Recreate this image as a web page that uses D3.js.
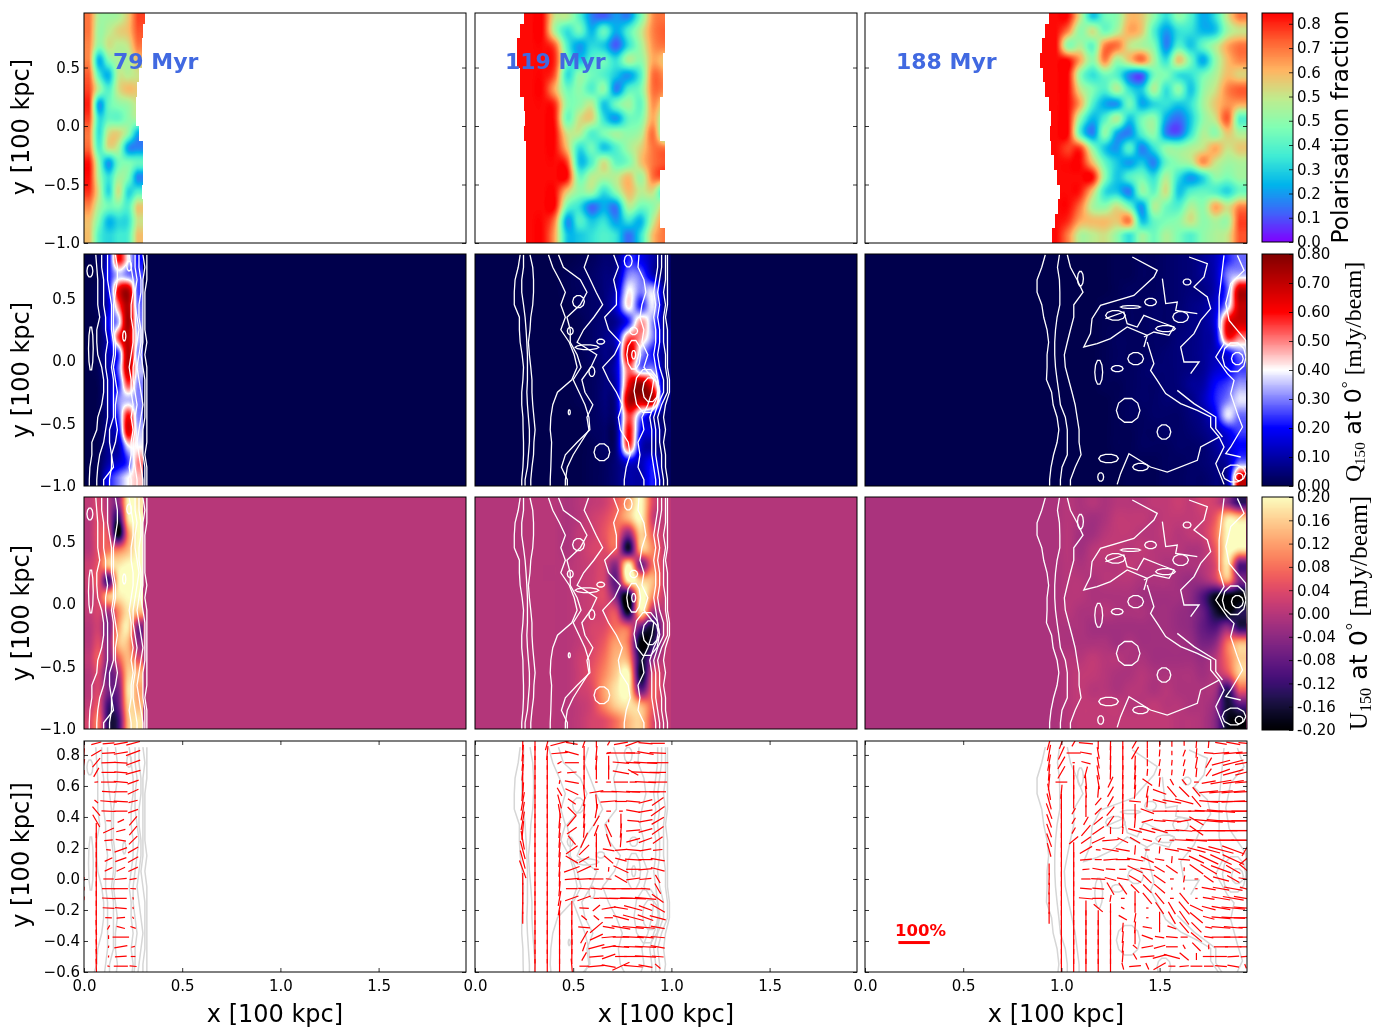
<!DOCTYPE html>
<html>
<head>
<meta charset="utf-8">
<script src="https://cdn.jsdelivr.net/npm/d3@7"></script>
<style>
  body { margin: 0; background: #fff; }
  #wrap { position: relative; width: 1383px; height: 1036px; }
  canvas, svg { position: absolute; left: 0; top: 0; }
  text { font-family: "DejaVu Sans", sans-serif; fill: #000; }
</style>
</head>
<body>
<div id="wrap"><canvas id="maps" width="1383" height="1036"></canvas><svg id="axes" width="1383" height="1036"></svg></div>
<script>
const ages = ['79 Myr', '119 Myr', '188 Myr'];

// grid origin and spacing of the maps, per column (x in 100 kpc)
const mapX0 = [0, 0.25, 0.94];
const mapDx = [0.05, 0.0625, 0.0625];
const polY = d3.range(16).map(i => 0.9375 - i * 0.125);
const stokesY = polY.slice(1);

// polarisation fraction, percent
const pol79 = [
  [72,50,48,50,60,78],[72,48,52,58,62,76],[70,45,55,52,55,72],[70,22,42,50,50,62],
  [75,35,22,52,52,55],[78,50,35,55,62,60],[82,20,38,45,48,55],[78,30,38,38,45,50],
  [72,30,55,58,45,20],[74,35,55,50,18,15],[84,45,18,40,42,38],[84,50,30,48,42,15],
  [80,55,28,55,28,35],[70,50,40,42,35,60],[62,42,22,28,30,55],[62,35,28,32,35,62]];
const pol119 = [
  [84,84,55,52,35,15,10,18,15,40,68,72],[84,84,50,30,40,22,38,20,35,52,70,75],
  [84,84,75,35,18,28,25,10,30,48,68,72],[84,84,80,40,25,35,40,30,50,45,65,60],
  [84,84,75,30,45,40,35,25,18,35,72,68],[84,84,65,40,45,35,45,15,35,42,72,70],
  [84,84,80,45,45,52,25,40,48,38,68,55],[84,84,82,40,55,58,30,18,38,42,65,40],
  [84,84,84,55,52,35,42,48,45,50,72,35],[84,84,84,62,30,40,25,35,48,58,72,72],
  [84,84,84,78,25,35,55,38,42,60,72,76],[84,84,84,84,40,52,50,52,62,48,72,76],
  [84,84,84,60,45,48,30,45,62,52,55,25],[84,84,84,40,30,12,20,15,50,40,45,60],
  [84,84,70,18,35,25,30,18,30,22,52,72],[84,84,65,25,25,30,35,30,12,30,62,72]];
const pol188 = [
  [84,84,55,25,40,45,62,60,45,30,45,35,20,30,55,72],[84,70,45,55,40,50,65,60,35,18,30,30,22,25,48,55],
  [84,45,50,38,70,72,55,50,42,15,35,25,38,50,65,72],[84,84,65,45,70,48,60,72,50,30,60,40,20,45,62,70],
  [84,84,45,30,40,35,15,10,40,42,30,30,40,50,62,58],[84,84,55,42,35,50,30,25,50,30,45,25,45,55,70,75],
  [84,84,65,35,20,18,40,20,28,30,25,30,48,60,68,65],[84,84,45,22,35,50,25,40,45,20,12,25,45,55,75,35],
  [84,84,35,15,45,20,15,35,45,15,10,30,50,45,60,50],[84,78,78,45,25,18,35,15,30,45,45,50,55,65,55,60],
  [84,84,84,62,38,25,18,25,15,38,45,50,68,55,48,50],[84,84,84,84,45,25,35,40,30,50,30,18,28,45,42,48],
  [84,84,82,60,30,25,15,45,38,55,25,35,38,35,28,40],[84,84,72,50,45,55,40,18,50,40,35,50,45,65,55,70],
  [84,80,65,62,62,60,70,25,38,42,45,55,45,50,48,78],[84,70,50,52,55,45,30,48,40,50,42,35,45,50,55,76]];

// where the polarisation map stops being defined, per grid row
const polLeft = [
  new Array(16).fill(0),
  [.247,.23,.216,.216,.23,.23,.247,.255,.247,.26,.26,.26,.26,.26,.26,.26],
  [.935,.918,.901,.893,.906,.918,.935,.947,.943,.947,.961,.978,.991,.985,.968,.952]];
const polRight = [
  [.31,.30,.295,.295,.28,.27,.265,.265,.28,.30,.30,.30,.295,.30,.30,.30],
  [.969,.969,.969,.955,.955,.955,.94,.94,.94,.969,.969,.94,.94,.94,.94,.969],
  [1.95,1.95,1.95,1.95,1.95,1.95,1.95,1.95,1.95,1.95,1.95,1.95,1.95,1.95,1.95,1.95]];

// Q at 150 MHz, hundredths of mJy/beam
const q79 = [
  [0,3,18,60,40,20],[0,2,20,35,30,25],[0,3,18,62,72,25],[0,3,15,50,72,28],[0,2,20,35,75,30],
  [0,2,15,55,70,35],[0,2,12,25,72,30],[0,2,10,28,70,35],[0,1,10,22,55,30],[0,1,10,30,35,30],
  [0,1,8,25,60,30],[0,1,8,18,65,35],[0,1,8,10,38,40],[0,2,10,15,25,50],[0,2,20,30,40,45]];
const q119 = [
  [0,0,0,0,1,2,4,6,22,18,10,3],[0,0,0,1,2,3,5,8,30,28,12,3],[0,0,0,1,2,3,5,12,40,30,36,5],
  [0,0,0,0,2,3,5,15,42,22,38,5],[0,0,0,0,1,3,5,8,22,48,30,5],[0,0,0,0,1,3,6,14,52,48,30,8],
  [0,0,0,0,1,3,6,12,68,35,20,6],[0,0,0,0,1,2,5,14,52,30,30,5],[0,0,0,0,1,2,5,12,60,78,55,5],
  [0,0,0,0,1,2,5,10,72,70,70,5],[0,0,0,0,0,2,4,8,55,30,12,3],[0,0,0,0,0,2,3,6,60,20,15,3],
  [0,0,0,0,0,1,3,6,55,14,8,2],[0,0,0,0,0,1,2,5,15,12,20,2],[0,0,0,0,0,1,2,5,10,10,22,2]];
const q188 = [
  [0,0,0,0,0,1,1,2,2,3,4,5,8,12,22,28],[0,0,0,0,0,1,1,2,2,3,4,5,8,12,30,35],
  [0,0,0,0,0,1,2,2,2,3,4,5,6,12,28,72],[0,0,0,0,1,1,2,2,3,3,4,6,8,15,35,70],
  [0,0,0,0,1,1,2,2,3,3,4,6,8,18,62,68],[0,0,0,0,1,2,2,2,3,3,5,6,8,15,58,50],
  [0,0,0,0,1,2,2,2,3,4,5,6,8,12,18,30],[0,0,0,0,1,2,2,3,4,4,5,6,8,14,18,25],
  [0,0,0,0,1,1,2,3,3,4,5,8,10,20,25,32],[0,0,0,0,0,1,2,3,3,4,4,6,12,22,30,38],
  [0,0,0,0,0,1,2,2,3,3,3,5,8,18,38,28],[0,0,0,0,0,1,1,2,2,3,3,4,6,10,18,25],
  [0,0,0,0,0,1,1,2,2,2,3,3,4,8,14,20],[0,0,0,0,0,0,1,1,1,2,2,3,4,6,10,30],
  [0,0,0,0,0,0,1,1,1,2,2,3,3,5,10,70]];

// U at 150 MHz, hundredths of mJy/beam
const u79 = [
  [1,3,-1,-4,20,18],[0,4,0,-14,18,20],[0,5,4,-20,10,20],[0,5,8,8,14,20],[2,6,15,18,20,20],
  [2,5,-12,18,20,20],[1,4,14,18,20,20],[1,3,-2,10,18,14],[0,2,-6,12,18,-6],[0,4,-4,14,14,-4],
  [1,6,-5,6,14,4],[0,3,-8,-2,16,14],[0,3,-6,-6,18,12],[1,5,-12,-8,16,14],[3,8,-14,-12,14,18]];
const u119 = [
  [0,0,0,-1,0,1,2,6,12,20,4,1],[0,0,0,-1,0,2,4,8,14,20,2,1],[0,0,0,-1,1,2,5,8,-4,16,6,1],
  [0,0,0,-1,1,3,4,6,-16,14,10,1],[0,0,0,0,1,2,3,-4,20,-6,8,1],[0,0,0,0,1,2,3,-8,20,16,14,1],
  [0,0,0,0,1,2,4,-6,-20,20,10,1],[0,0,0,0,1,2,3,4,-18,18,-2,1],[0,0,0,0,1,3,4,8,6,-8,-16,1],
  [0,0,0,0,1,3,6,12,8,-20,-14,1],[0,0,0,0,2,4,8,14,12,-16,-4,1],[0,0,0,0,2,5,10,16,20,-18,4,1],
  [0,0,0,0,2,4,12,18,20,-8,6,1],[0,0,0,0,1,3,10,16,18,14,6,1],[0,0,0,0,1,3,4,8,14,16,4,1]];
const u188 = [
  [-1,0,-1,0,-1,0,0,0,1,1,2,1,3,2,-4,-14],[-1,0,-1,-2,-1,1,1,1,0,1,1,1,2,6,18,16],
  [-1,0,-2,-2,0,1,1,0,0,1,0,1,2,8,20,20],[-1,0,-2,0,1,1,0,1,0,0,0,-1,0,6,20,18],
  [-1,0,-1,0,0,0,1,0,0,-1,-1,-1,0,4,18,-10],[-1,0,0,-1,0,0,0,-1,-1,-1,-2,-3,-2,2,12,-6],
  [-1,0,0,-1,-1,-1,-1,-2,-2,-2,-2,-4,-10,-18,-20,-20],[-1,0,-1,-1,0,-1,-1,-1,-2,-2,-3,-4,-8,-16,-20,-14],
  [-1,-1,-1,-2,-2,-2,-2,-2,-2,-2,-3,-4,-8,-10,-4,-14],[-1,-1,-1,-1,-1,-2,-1,-2,-2,-2,-2,-3,-6,-4,8,14],
  [-1,0,0,1,0,0,-1,-1,-2,-2,-2,-2,-3,0,8,16],[-1,0,1,1,0,-1,-1,0,-1,-1,-1,-1,-2,0,4,16],
  [-1,0,1,0,0,-1,0,0,-1,0,-1,-1,-1,-2,-14,6],[-1,0,1,1,1,1,0,0,1,0,0,-1,-1,-4,-16,-10],
  [-1,0,1,1,1,1,1,1,1,1,0,0,-1,-5,-18,-20]];
const uBackground = [0, -0.3, -1.2];

// contour lines that run top to bottom: x (hundredths) at each contourY
const contourY = d3.range(19).map(i => 0.85 - i * 0.1);
const lines79 = [
  [6,6.5,7,7,7,8,6.5,6.5,7,9,10,10,9,7,6.5,4,4,3,2.7],
  [9,9,10,10,10,11,11,12,11,11,12,12,12,12,11,10,8,7,6.5],
  [12,12,12,13,14,14,14,15,15,14,15,15,15,15,13,13,14,15,10],
  [16,17,17,16,15,15,15,16,16,15,16,17,16,16,17,16,14,14,13],
  [23,24,25,25,24,24,25,25,24,23,24,24,25,24,25,24,24,23,24],
  [26,26,27,26,26,27,28,27,26,25,25,26,27,26,26,25,25,26,27],
  [28,28,29,29,28,28,29,29,28,27,28,29,30,29,28,27,28,29,30],
  [30,31,30,30,30,30,30,30,29,30,31,31,31,31,30,30,30,31,31],
  [32,32,32,31,31,31,31,32,31,32,32,32,32,32,32,32,31,32,32]];
const lines119 = [
  [23,22,20.4,20,20,22.6,22.6,23,24,24.7,24.4,23.8,23.8,24.4,24.5,24.7,24.7,24.4,23.8],
  [24.7,24.7,23.8,23.8,24.7,25.5,26,26.4,26.7,26.7,26.7,26.4,26.7,27.2,27.7,27.7,27.2,26.7,25.5],
  [28,29.4,29.8,29.8,29.4,28.4,28,27.2,27.7,28.4,29,29,29.4,30,30.6,30,29.8,29,28.4],
  [37.4,39.6,43,46,43.7,46,43.7,48,50.5,52,49.3,42,39.6,38.6,38.3,39,38.8,38.6,38.3],
  [42.5,45,53.6,57,53.6,46.8,48.5,48.5,52,54,50,53,56,58,58.5,52,46,44,47],
  [57.8,55.6,58.7,61.7,65,60.5,55.3,52,62,59,54.4,56,60,57,58,54,50,47,46],
  [70.6,73,70.6,72,72,66,68,74,71,65,68,72,75,73,74,78,79,77,76],
  [83.5,83,86,87,85,84,86,85,88,86,91,90,88,85,86,83,84,83,86],
  [93,93,92,91,92,91,92,92,91,92,93,94,91,89,90,90,90,91,92],
  [95,95,94,93,94,93,94,94,93,94,96,96,93,91,92,92,92,93,94],
  [97,97,97,96,97,96,96,96,97,97,98,98,95,93,94,94,95,95,96],
  [98,98,98,98,98,97,98,98,98,98,99,99,97,96,97,96,97,97,98]];
const lines188 = [
  [91.8,90,87.6,87.6,90,91,92.7,93.5,92.7,92.7,92.4,95,95.8,97.8,98.7,97.8,96,94.7,94],
  [99,98,99,99.2,99.2,97.8,97,96.6,96.6,97,97.8,98.7,99.5,102,103,103,103,100.3,99.5],
  [103,104.6,108,111,106.3,106.3,104.6,103,101.5,102,103.7,105.4,107,108,109,109,110,107,104.6]];

// contour lines that wander: [x, y] points
const paths119 = [];
const paths79 = [];
const paths188 = [
  [[1.361,.832],[1.488,.725],[1.471,.672],[1.369,.525],[1.199,.445],[1.156,.339],[1.148,.219],[1.114,.112],[1.182,.139],[1.25,.179],[1.335,.272],[1.437,.205],[1.42,.112]],
  [[1.437,.152],[1.471,-.021],[1.454,-.075],[1.488,-.155],[1.531,-.261],[1.607,-.341],[1.692,-.395],[1.76,-.448],[1.76,-.528],[1.803,-.608],[1.709,-.688],[1.692,-.795],[1.539,-.888],[1.454,-.848],[1.344,-.741],[1.301,-.901],[1.284,-.987]],
  [[1.59,-.235],[1.675,-.341],[1.786,-.448],[1.786,-.541],[1.82,-.608]],
  [[1.65,.832],[1.743,.779],[1.726,.672],[1.675,.592],[1.743,.512],[1.76,.419],[1.709,.325],[1.675,.219],[1.607,.112],[1.624,-.008],[1.701,-.008],[1.658,-.101]],
  [[1.828,.845],[1.803,.512],[1.803,.272],[1.828,.139],[1.786,.032],[1.845,-.101],[1.879,-.155],[1.862,-.261],[1.896,-.421],[1.922,-.528],[1.862,-.688],[1.837,-.741],[1.913,-.768]],
  [[1.896,.845],[1.93,.725],[1.862,.619],[1.837,.459],[1.854,.325],[1.896,.245],[1.939,.165],[1.947,-.155]],
  [[1.224,.339],[1.318,.392],[1.335,.299],[1.386,.272],[1.42,.365],[1.505,.312],[1.573,.272],[1.548,.205],[1.471,.232],[1.42,.192]],
  [[1.514,.659],[1.531,.459],[1.59,.472],[1.582,.405],[1.692,.379]],
  [[1.803,-.608],[1.828,-.688],[1.786,-.821],[1.828,-.987]]];

// closed contours: centre x, centre y, half width, half height
const loops79 = [[.03,.72,.015,.05],[.035,.1,.012,.18],[.205,.2,.008,.04],[.23,.76,.012,.04]];
const loops119 = [
  [.78,.80,.02,.05],[.527,.475,.03,.05],[.485,.24,.015,.03],[.64,.155,.02,.02],[.57,.11,.06,.02],
  [.595,-.085,.015,.04],[.646,-.73,.04,.07],[.808,.24,.02,.03],[.808,.05,.01,.035],[.893,-.23,.04,.1],
  [.875,-.24,.065,.18],[.808,.05,.035,.12],[.48,-.41,.005,.02]];
const loops188 = [
  [1.378,.019,.04,.05],[1.275,.365,.05,.04],[1.607,.352,.04,.045],[1.53,.259,.05,.025],[1.454,.472,.03,.03],
  [1.352,.432,.05,.012],[1.19,-.09,.02,.1],[1.284,-.061,.03,.025],[1.34,-.395,.06,.1],[1.522,-.568,.035,.06],
  [1.24,-.78,.05,.035],[1.2,-.928,.015,.035],[1.896,.019,.03,.05],[1.905,-.928,.02,.03],[1.879,-.9,.06,.07],
  [1.097,.659,.015,.06],[1.64,.632,.02,.025],[1.403,-.848,.04,.03],[1.88,.03,.06,.12]];

// polarisation vectors: grid, angle (degrees from +x) and relative length
const vecY = d3.range(24).map(i => 0.875 - i * 0.0625);
const vecX79 = [0, .0625, .125, .1875, .25];
const vecX119 = d3.range(12).map(i => .243 + i * .0625);
const vecX188 = d3.range(17).map(i => .9375 + i * .0625);
const vecAngle79 = [
  [85,15,5,10,15],[85,30,3,10,20],[80,50,2,-3,20],[90,60,0,-5,15],[90,5,0,-5,20],[0,0,-3,0,25],
  [0,-40,-5,-3,15],[0,-50,-3,0,20],[0,-60,-2,25,50],[0,90,25,15,50],[0,90,5,-10,45],[0,90,-5,20,30],
  [0,90,25,20,30],[0,90,25,25,25],[88,90,0,5,10],[88,90,0,0,-3],[85,90,-3,0,-80],[0,90,-3,-5,-80],
  [0,90,-3,5,-60],[0,92,60,-15,-20],[0,92,90,0,0],[0,92,80,10,15],[0,92,85,3,0],[0,92,-15,0,-5]];
const vecLen79 = [
  [20,22,25,30,30],[20,25,28,30,32],[15,25,30,28,32],[10,22,30,28,32],[0,8,32,30,25],[0,0,28,28,25],
  [0,10,35,30,20],[0,25,30,28,22],[0,30,10,15,25],[0,32,25,20,25],[0,32,18,22,25],[0,32,10,28,25],
  [0,32,18,25,25],[0,32,18,20,22],[8,32,22,25,15],[8,32,28,30,12],[8,32,28,25,5],[0,32,25,25,5],
  [0,32,14,18,5],[0,32,10,18,12],[0,32,8,35,0],[0,32,5,28,8],[0,32,4,25,10],[0,32,5,30,15]];
const vecAngle119 = [
  [88,90,75,15,-10,70,90,60,10,20,-5,0],[85,90,85,5,-15,90,85,15,0,-2,-10,-3],[85,90,90,30,0,90,85,90,-5,-3,-3,0],
  [85,90,90,20,5,90,90,90,-10,-30,-2,0],[90,90,90,80,-10,90,0,0,0,0,-3,0],[85,90,90,-60,-25,95,10,0,-3,-3,0,0],
  [80,90,90,-75,-35,80,95,5,0,-5,15,35],[80,90,90,-80,-45,85,80,0,-2,-10,10,35],[80,90,90,85,50,85,60,90,90,-5,10,30],
  [85,90,90,85,35,85,70,-65,85,5,15,35],[100,90,90,85,-50,65,90,-70,85,15,20,35],[105,90,90,85,35,45,90,-10,5,-5,10,5],
  [105,90,90,85,-30,30,90,-40,-15,-3,0,-10],[110,90,90,85,20,25,-3,85,-25,0,5,-15],[90,90,90,88,5,3,0,-5,-30,8,5,-60],
  [90,90,90,85,0,-3,-5,-2,0,0,-5,-60],[90,90,90,80,20,20,0,-2,0,-2,-5,-35],[90,90,90,80,90,-3,40,10,-10,-15,-20,-30],
  [90,90,90,90,90,-40,-40,0,-15,-15,-20,-15],[0,90,90,90,92,-5,40,-10,-10,-5,-5,-10],[0,90,90,90,92,60,25,5,0,-3,-5,-5],
  [0,90,90,90,90,70,15,10,-5,-2,-3,-10],[0,90,90,90,90,60,5,20,0,0,-3,-5],[0,90,90,90,95,0,5,-10,25,-5,-10,-40]];
const vecLen119 = [
  [30,30,30,40,25,20,18,10,30,35,30,30],[35,30,30,35,30,30,30,10,60,30,35,35],[35,30,30,10,30,30,30,30,35,30,50,45],
  [35,30,30,8,20,30,30,30,35,25,60,35],[40,30,30,8,30,30,5,10,30,15,45,40],[40,30,30,20,30,30,30,35,40,30,60,35],
  [40,30,30,30,20,20,30,35,25,30,30,30],[40,30,30,30,25,30,30,10,8,30,30,35],[40,30,30,32,30,30,25,6,30,25,30,30],
  [40,30,30,32,25,30,25,30,30,30,30,30],[40,30,30,32,25,35,30,28,30,30,30,25],[40,30,30,32,30,30,32,25,25,30,25,20],
  [40,30,30,32,30,25,32,25,25,35,30,30],[40,30,30,32,35,32,10,10,35,30,30,30],[25,30,30,32,30,30,30,12,30,30,25,20],
  [25,30,30,32,25,25,25,30,40,50,20,25],[25,30,30,32,30,30,12,40,50,55,45,30],[25,30,30,32,30,20,20,30,30,40,30,35],
  [25,30,30,32,30,15,15,18,35,45,35,35],[0,30,30,32,32,25,35,25,40,45,40,30],[0,30,30,32,32,30,30,30,35,45,35,30],
  [0,30,30,32,32,20,35,30,35,40,45,30],[0,30,30,32,32,20,30,30,25,40,45,25],[0,30,30,32,32,20,35,30,40,40,30,15]];
const vecAngle188 = [
  [75,70,60,-5,90,88,90,60,90,90,90,90,85,85,-10,-10,-5],[80,65,0,-10,100,88,90,60,90,85,90,70,85,-5,5,5,3],
  [80,60,0,-15,100,88,90,88,90,80,85,75,80,60,15,15,10],[85,60,90,75,100,88,88,85,85,80,85,75,85,55,20,15,15],
  [85,0,90,95,100,65,88,85,-35,85,-60,-50,0,10,10,8,5],[100,85,90,95,85,60,88,85,80,-20,-50,-45,-50,5,5,5,3],
  [105,90,90,90,50,60,88,-5,85,-15,-10,-15,-50,-5,0,3,0],[110,90,60,90,45,50,90,90,-20,0,0,0,0,-3,-5,0,0],
  [110,90,60,60,40,55,88,85,15,-5,-5,10,-30,-5,-5,0,0],[110,90,60,50,35,90,85,-15,-15,-15,0,-5,-35,0,0,0,0],
  [110,90,40,35,25,5,-25,-30,-15,60,0,-3,-5,0,0,0,0],[105,90,90,30,-5,-10,-10,85,0,85,-10,-10,-15,-15,-15,-20,60],
  [0,90,90,5,0,5,0,-10,-25,-10,85,-5,-25,-25,-25,-25,40],[90,90,90,5,-10,-5,0,-25,-10,-30,-35,85,-35,-30,-20,-30,-40],
  [88,90,90,0,-3,-15,-10,-30,-45,-35,0,80,0,-35,-15,-30,-10],[88,90,90,-5,-5,-60,-55,-45,-45,-40,90,90,0,-10,-10,-10,-15],
  [90,90,90,-5,0,80,0,90,-50,-50,0,-50,0,-10,-10,-10,-10],[90,90,90,90,-40,90,-30,90,0,-55,-60,-50,-25,-15,-10,-5,-5],
  [90,90,90,90,90,90,-30,80,0,90,-60,-55,-40,-15,-5,-3,0],[0,90,90,90,90,90,85,85,-10,90,-20,-50,-45,-10,-5,-5,0],
  [0,90,90,90,90,90,85,90,-20,-10,-5,0,-40,-10,0,0,0],[0,90,90,90,90,90,85,-40,10,15,0,-60,-45,90,0,0,0],
  [0,90,90,90,90,90,85,-60,5,15,-15,-40,90,0,0,3,5],[0,90,90,90,90,90,-75,5,-65,30,0,5,0,0,-5,-10,-70]];
const vecLen188 = [
  [30,25,15,30,25,30,25,25,20,15,15,10,20,20,25,30,30],[35,30,30,25,25,30,30,30,20,15,10,15,20,20,35,40,40],
  [35,30,5,20,25,30,30,30,15,15,12,15,25,25,40,45,45],[35,30,30,25,30,30,30,30,15,15,12,15,20,20,40,45,45],
  [35,25,30,30,30,25,30,30,25,20,15,15,10,30,45,45,45],[35,30,30,25,25,25,32,30,25,30,30,30,25,40,50,50,50],
  [35,32,30,25,20,25,32,25,25,30,40,40,30,40,50,50,50],[35,32,15,25,20,25,32,30,30,30,30,30,35,60,60,60,60],
  [30,32,15,20,25,25,30,30,25,25,40,30,35,60,60,60,60],[30,32,15,30,30,15,15,30,35,35,30,35,35,70,70,70,60],
  [30,32,25,25,30,35,25,25,20,10,10,40,45,50,55,55,60],[30,32,32,30,10,35,30,20,10,15,30,30,40,50,55,50,30],
  [0,32,32,25,15,30,30,35,30,20,15,25,35,45,50,50,35],[25,32,32,15,25,20,15,35,30,25,30,8,35,40,45,35,30],
  [25,32,32,20,30,25,25,30,25,30,8,15,8,25,35,30,30],[25,32,32,25,25,30,30,25,25,30,5,5,5,30,35,40,25],
  [25,32,32,30,25,15,8,30,30,30,8,30,5,25,40,45,50],[25,32,32,32,25,20,8,20,5,30,30,35,30,30,40,50,50],
  [25,32,32,32,32,30,20,20,5,25,30,35,35,25,40,50,50],[0,32,32,32,32,32,20,25,20,20,20,30,30,15,40,40,30],
  [0,32,32,32,32,32,25,30,25,20,25,15,30,20,40,40,30],[0,32,32,32,32,32,25,12,25,25,25,10,25,10,30,35,25],
  [0,32,32,32,32,32,25,15,30,30,35,25,15,25,25,25,20],[0,32,32,32,32,32,15,25,15,30,15,20,25,20,25,25,10]];

const polMaps = [pol79, pol119, pol188];
const qMaps = [q79, q119, q188];
const uMaps = [u79, u119, u188];
const lineSets = [lines79, lines119, lines188];
const pathSets = [paths79, paths119, paths188];
const loopSets = [loops79, loops119, loops188];
const vecGrids = [
  { xs: vecX79, angle: vecAngle79, len: vecLen79 },
  { xs: vecX119, angle: vecAngle119, len: vecLen119 },
  { xs: vecX188, angle: vecAngle188, len: vecLen188 }];

const xTicks = [0, 0.5, 1, 1.5];
const yTicksMap = [-1, -0.5, 0, 0.5];
const yTicksVec = [-0.6, -0.4, -0.2, 0, 0.2, 0.4, 0.6, 0.8];
const polBarTicks = [0, .09, .18, .27, .36, .45, .54, .63, .72, .81];
const qBarTicks = [0, .1, .2, .3, .4, .5, .6, .7, .8];
const uBarTicks = [-.2, -.16, -.12, -.08, -.04, 0, .04, .08, .12, .16, .2];

const X_MAX = 1.945;
const VEC_UNIT = 0.16;  // x extent of the 100% bar
const VEC_GAIN = 1.5;   // relative vector length to percent of that bar
const colLeft = [84, 475, 865];
const colWidth = 382;
const rowBox = [
  { top: 13, bottom: 243, yMin: -1, yMax: 0.966 },
  { top: 254, bottom: 486, yMin: -1, yMax: 0.856 },
  { top: 497, bottom: 729, yMin: -1, yMax: 0.856 },
  { top: 741, bottom: 972, yMin: -0.6, yMax: 0.89 }];

// colour tables
function lut(scale) {
  return d3.range(256).map(i => d3.rgb(scale(i / 255)));
}
const rainbowStops = d3.range(0, 1.001, 0.125).map(t =>
  d3.rgb(255 * Math.abs(2 * t - 0.5), 255 * Math.sin(Math.PI * t), 255 * Math.cos(Math.PI * t / 2)));
const polLut = lut(d3.scaleLinear().domain(d3.range(9).map(i => i / 8)).range(rainbowStops));
const qLut = lut(d3.scaleLinear().domain([0, .25, .5, .75, 1]).range(['#00004c', '#0000ff', '#ffffff', '#ff0000', '#800000']));
const uLut = lut(d3.interpolateMagma);

const ctx = document.getElementById('maps').getContext('2d');
const svg = d3.select('#axes');

// Catmull-Rom, so the maps read as blobs and not as blocks
function cubic(a, b, c, d, t) {
  return b + 0.5 * t * (c - a + t * (2 * a - 5 * b + 4 * c - d + t * (3 * (b - c) + d - a)));
}

function sampleGrid(grid, gx, gy) {
  const ny = grid.length, nx = grid[0].length;
  gx = Math.max(0, Math.min(nx - 1, gx));
  gy = Math.max(0, Math.min(ny - 1, gy));
  const i = Math.floor(gx), j = Math.floor(gy);
  const fx = gx - i, fy = gy - j;
  const ix = k => Math.max(0, Math.min(nx - 1, k));
  const row = jj => {
    const g = grid[Math.max(0, Math.min(ny - 1, jj))];
    return cubic(g[ix(i - 1)], g[i], g[ix(i + 1)], g[ix(i + 2)], fx);
  };
  return cubic(row(j - 1), row(j), row(j + 1), row(j + 2), fy);
}

function drawMap(col, x, y, grid, yTop, table, domain, bg, left, right) {
  const [x0, x1] = x.range(), [y1, y0] = y.range();
  const w = x1 - x0, h = y1 - y0;
  const img = ctx.createImageData(w, h);
  const t = d3.scaleLinear().domain(domain).range([0, 255]).clamp(true);
  const dx = mapDx[col], xEnd = mapX0[col] + dx * grid[0].length;
  for (let py = 0; py < h; py++) {
    const dy = y.invert(y0 + py + 0.5);
    const gy = (yTop - dy) / 0.125;
    const edgeRow = Math.max(0, Math.min(15, Math.round((0.9375 - dy) / 0.125)));
    for (let px = 0; px < w; px++) {
      const dxv = x.invert(x0 + px + 0.5);
      let v;
      if (left) {
        if (dxv < left[edgeRow] || dxv > right[edgeRow]) continue;
        v = sampleGrid(grid, (dxv - mapX0[col]) / dx - 0.5, gy);
      } else {
        v = (dxv < mapX0[col] || dxv > xEnd) ? bg : sampleGrid(grid, (dxv - mapX0[col]) / dx - 0.5, gy);
      }
      const c = table[Math.round(t(v))];
      const k = (py * w + px) * 4;
      img.data[k] = c.r; img.data[k + 1] = c.g; img.data[k + 2] = c.b; img.data[k + 3] = 255;
    }
  }
  ctx.putImageData(img, x0, y0);
}

function drawContours(g, col, x, y, color, width) {
  const line = d3.line().x(d => x(d[0])).y(d => y(d[1]));
  const paths = lineSets[col].map(xs => {
    const pts = xs.map((v, i) => [v / 100, contourY[i]]);
    return pts.concat([[xs[18] / 100, -1.02]]);
  }).concat(pathSets[col]);
  g.selectAll('path.contour').data(paths).join('path').attr('class', 'contour')
    .attr('d', line).attr('fill', 'none').attr('stroke', color).attr('stroke-width', width);
  const closed = d3.line().x(d => x(d[0])).y(d => y(d[1])).curve(d3.curveLinearClosed);
  g.selectAll('path.loop').data(loopSets[col]).join('path').attr('class', 'loop')
    .attr('d', ([cx, cy, rx, ry]) => closed(d3.range(10).map(i => [
      cx + rx * Math.cos(i * Math.PI / 5), cy + ry * Math.sin(i * Math.PI / 5)])))
    .attr('fill', 'none').attr('stroke', color).attr('stroke-width', width);
}

function drawVectors(g, col, x, y) {
  const vg = vecGrids[col];
  const unit = (x(VEC_UNIT) - x(0)) * VEC_GAIN / 100;
  const segs = [];
  vecY.forEach((vy, r) => vg.xs.forEach((vx, c) => {
    const len = vg.len[r][c];
    if (len > 0) segs.push({ vx, vy, a: vg.angle[r][c] * Math.PI / 180, l: len * unit / 2 });
  }));
  g.selectAll('line.vec').data(segs).join('line').attr('class', 'vec')
    .attr('x1', d => x(d.vx) - d.l * Math.cos(d.a)).attr('x2', d => x(d.vx) + d.l * Math.cos(d.a))
    .attr('y1', d => y(d.vy) + d.l * Math.sin(d.a)).attr('y2', d => y(d.vy) - d.l * Math.sin(d.a))
    .attr('stroke', '#ff0000').attr('stroke-width', 1.2);
}

function styleAxis(sel) {
  sel.select('.domain').remove();
  sel.selectAll('line').attr('stroke', '#000').attr('stroke-width', 0.8);
  sel.selectAll('text').style('font-family', '"DejaVu Sans", sans-serif').style('font-size', '15px').attr('fill', '#000');
}

rowBox.forEach((box, r) => colLeft.forEach((left, col) => {
  const x = d3.scaleLinear().domain([0, X_MAX]).range([left, left + colWidth]);
  const y = d3.scaleLinear().domain([box.yMin, box.yMax]).range([box.bottom, box.top]);
  const clipId = `clip-${r}-${col}`;
  svg.append('clipPath').attr('id', clipId).append('rect')
    .attr('x', left).attr('y', box.top).attr('width', colWidth).attr('height', box.bottom - box.top);
  const g = svg.append('g').attr('clip-path', `url(#${clipId})`);

  if (r === 0) drawMap(col, x, y, polMaps[col], polY[0], polLut, [0, 85], 0, polLeft[col], polRight[col]);
  if (r === 1) drawMap(col, x, y, qMaps[col], stokesY[0], qLut, [0, 80], 0);
  if (r === 2) drawMap(col, x, y, uMaps[col], stokesY[0], uLut, [-20, 20], uBackground[col]);
  if (r === 1 || r === 2) drawContours(g, col, x, y, '#ffffff', 1.3);
  if (r === 3) {
    drawContours(g, col, x, y, '#d6d6d6', 1.5);
    drawVectors(g, col, x, y);
  }

  // ticks
  const yTicks = r === 3 ? yTicksVec : yTicksMap;
  const tickLen = (r === 1 || r === 2) ? 0 : -4;
  svg.append('g').attr('transform', `translate(${left},0)`)
    .call(d3.axisLeft(y).tickValues(yTicks).tickSize(tickLen).tickPadding(r === 1 || r === 2 ? 8 : 4)
      .tickFormat(col === 0 ? d3.format('.1f') : ''))
    .call(styleAxis);
  svg.append('g').attr('transform', `translate(${left + colWidth},0)`)
    .call(d3.axisRight(y).tickValues(yTicks).tickSize(tickLen).tickFormat(''))
    .call(styleAxis);
  if (r === 3) {
    svg.append('g').attr('transform', `translate(0,${box.bottom})`)
      .call(d3.axisBottom(x).tickValues(xTicks).tickSize(-4).tickPadding(8).tickFormat(d3.format('.1f')))
      .call(styleAxis);
    svg.append('g').attr('transform', `translate(0,${box.top})`)
      .call(d3.axisTop(x).tickValues(xTicks).tickSize(-4).tickFormat(''))
      .call(styleAxis);
    svg.append('text').attr('x', left + colWidth / 2).attr('y', 1022).attr('text-anchor', 'middle')
      .style('font-size', '24px').text('x [100 kpc]');
  }
  svg.append('rect').attr('x', left).attr('y', box.top).attr('width', colWidth).attr('height', box.bottom - box.top)
    .attr('fill', 'none').attr('stroke', '#000').attr('stroke-width', 1);

  if (r === 0) {
    svg.append('text').attr('x', left + 29 + col).attr('y', 69)
      .style('fill', '#4169e1').style('font-size', '22px').style('font-weight', 'bold').text(ages[col]);
  }
}));

// y axis titles
[[127, 'y [100 kpc]'], [370, 'y [100 kpc]'], [613, 'y [100 kpc]'], [855, 'y [100 kpc]]']].forEach(([cy, label]) => {
  svg.append('text').attr('transform', `translate(29,${cy}) rotate(-90)`).attr('text-anchor', 'middle')
    .style('font-size', '24px').text(label);
});

// 100% scale bar
const xRef = d3.scaleLinear().domain([0, X_MAX]).range([colLeft[2], colLeft[2] + colWidth]);
const yRef = d3.scaleLinear().domain([rowBox[3].yMin, rowBox[3].yMax]).range([rowBox[3].bottom, rowBox[3].top]);
svg.append('line').attr('x1', xRef(0.17)).attr('x2', xRef(0.17 + VEC_UNIT)).attr('y1', yRef(-0.41)).attr('y2', yRef(-0.41))
  .attr('stroke', '#ff0000').attr('stroke-width', 3);
svg.append('text').attr('x', xRef(0.153)).attr('y', yRef(-0.37)).style('fill', '#ff0000')
  .style('font-size', '16.5px').style('font-weight', 'bold').text('100%');

// colour bars
function drawBar(box, domain, table, ticks, fmt) {
  const left = 1262, right = 1293;
  const s = d3.scaleLinear().domain(domain).range([box.bottom, box.top]);
  const t = d3.scaleLinear().domain(domain).range([0, 255]);
  for (let py = box.top; py < box.bottom; py++) {
    const c = table[Math.round(t(s.invert(py + 0.5)))];
    ctx.fillStyle = c.formatRgb();
    ctx.fillRect(left, py, right - left, 1);
  }
  svg.append('g').attr('transform', `translate(${right},0)`)
    .call(d3.axisRight(s).tickValues(ticks).tickSize(-4).tickPadding(4).tickFormat(fmt))
    .call(styleAxis);
  svg.append('rect').attr('x', left).attr('y', box.top).attr('width', right - left).attr('height', box.bottom - box.top)
    .attr('fill', 'none').attr('stroke', '#000').attr('stroke-width', 1);
}
const hyphen = f => v => f(v).replace('\u2212', '-');
drawBar({ top: 13, bottom: 242 }, [0, 0.85], polLut, polBarTicks, d3.format('.1f'));
drawBar({ top: 254, bottom: 486 }, [0, 0.8], qLut, qBarTicks, d3.format('.2f'));
drawBar({ top: 497, bottom: 730 }, [-0.2, 0.2], uLut, uBarTicks, hyphen(d3.format('.2f')));

svg.append('text').attr('transform', 'translate(1348,127) rotate(-90)').attr('text-anchor', 'middle')
  .style('font-size', '23.4px').text('Polarisation fraction');

function stokesLabel(tx, cy, letter, k) {
  const t = svg.append('text').attr('transform', `translate(${tx},${cy}) rotate(-90)`).attr('text-anchor', 'middle');
  const serif = '"Liberation Serif", serif';
  t.append('tspan').style('font-family', serif).style('font-size', `${22 * k}px`).text(letter);
  t.append('tspan').style('font-family', serif).style('font-size', `${14 * k}px`).attr('dy', 4).text('150');
  t.append('tspan').style('font-size', `${22 * k}px`).attr('dy', -4).text(' at 0');
  t.append('tspan').style('font-family', serif).style('font-size', `${16 * k}px`).attr('dy', -8).text('\u00b0');
  t.append('tspan').style('font-family', serif).style('font-size', `${22 * k}px`).attr('dy', 8).text(' [mJy/beam]');
}
stokesLabel(1361, 372, 'Q', 1.08);
stokesLabel(1367, 613, 'U', 1.15);
</script>
</body>
</html>
